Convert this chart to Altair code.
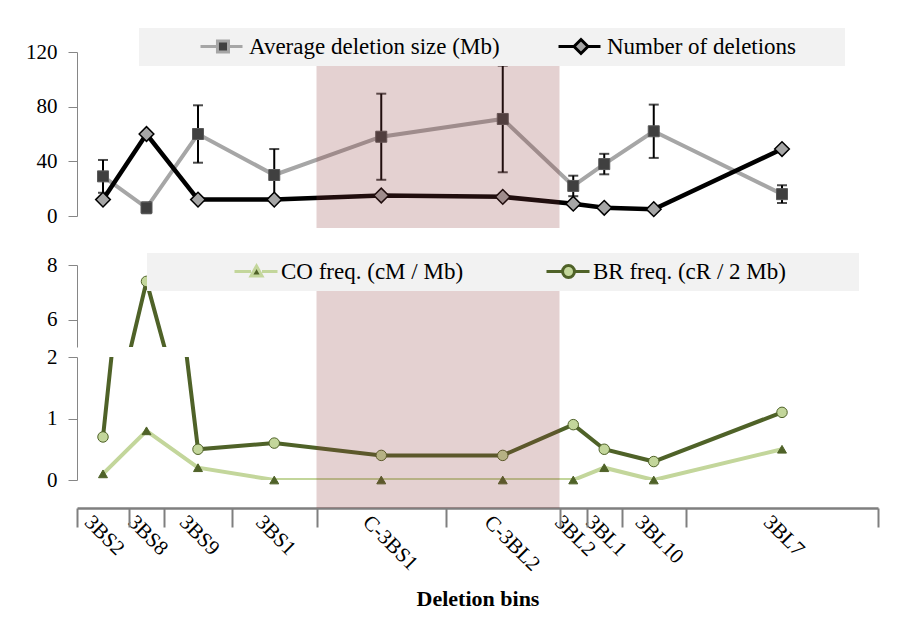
import json
import altair as alt
import pandas as pd

# ---------------- data ----------------
bins = ["3BS2", "3BS8", "3BS9", "3BS1", "C-3BS1", "C-3BL2", "3BL2", "3BL1", "3BL10", "3BL7"]
bin_edges = [0, 52, 87, 155, 239.5, 369, 482.5, 510, 544.5, 609, 801]
avg_size = [29, 6, 60, 30, 58, 71, 22, 38, 62, 16]
avg_err = [12, 4, 21, 19, 31.5, 39, 7.5, 7.5, 19.5, 6.5]
n_deletions = [12, 60, 12, 12, 15, 14, 9, 6, 5, 49]
co_freq = [0.1, 0.8, 0.2, 0, 0, 0, 0, 0.2, 0, 0.5]
br_freq = [0.7, 7.4, 0.5, 0.6, 0.4, 0.4, 0.9, 0.5, 0.3, 1.1]
centromeric_bins = ["C-3BS1", "C-3BL2"]
top_series = ["Average deletion size (Mb)", "Number of deletions"]
bottom_series = ["CO freq. (cM / Mb)", "BR freq. (cR / 2 Mb)"]
top_ticks = [0, 40, 80, 120]
upper_break_ticks = [6, 8]
lower_ticks = [0, 1, 2]
x_title = "Deletion bins"

mids = [(a + b) / 2 for a, b in zip(bin_edges[:-1], bin_edges[1:])]
df = pd.DataFrame({
    "bin": bins, "mid": mids, "avg": avg_size,
    "lo": [a - e for a, e in zip(avg_size, avg_err)],
    "hi": [a + e for a, e in zip(avg_size, avg_err)],
    "num": n_deletions, "co": co_freq, "br": br_freq,
})
i0 = bins.index(centromeric_bins[0])
i1 = bins.index(centromeric_bins[-1])
shade_df = pd.DataFrame({"start": [bin_edges[i0]], "end": [bin_edges[i1 + 1]]})

# ---------------- style ----------------
FONT = "Liberation Serif"
AXIS_GRAY = "#868686"
C_AVG_LINE, C_AVG_MARK = "#A6A6A6", "#404040"
C_NUM_LINE, C_NUM_MARK = "#000000", "#A6A6A6"
C_CO_LINE, C_CO_MARK = "#C3D69B", "#4F6228"
C_BR_LINE, C_BR_MARK = "#4F6228", "#C3D69B"
SHADE, SHADE_OP = "#8B3A3A", 0.23
LEG_BG = "#F2F2F2"
LEG_FONT = 23
W, H1, H2, H3 = 801, 164, 82, 123
GAP_TOP, GAP_BREAK, XAX_OFF = 49, 10, 28

xscale = alt.Scale(domain=[bin_edges[0], bin_edges[-1]], nice=False, zero=False)
X_NONE = alt.X("mid:Q", scale=xscale, axis=None)


def yaxis(values):
    return alt.Axis(values=values, title=None, tickSize=9, labelPadding=11, grid=False,
                    labelExpr="datum.value + ''", labelOverlap=False,
                    domainColor=AXIS_GRAY, tickColor=AXIS_GRAY, domainWidth=1, tickWidth=1,
                    labelFont=FONT, labelFontSize=21, labelColor="black")


def p(v):
    return f"{v:.3f}"


def stub(x0, xm, h):
    return f"M-1,0L-1,0M{p(x0)},0H{p(xm - h)}M{p(xm + h)},0H1"


def square(xm, h):
    return f"M{p(xm - h)},{p(-h)}H{p(xm + h)}V{p(h)}H{p(xm - h)}Z"


def diamond(xm, h):
    return f"M{p(xm)},{p(-h)}L{p(xm + h)},0L{p(xm)},{p(h)}L{p(xm - h)},0Z"


def triangle(xm, h):
    return f"M{p(xm)},{p(-h)}L{p(xm + h)},{p(0.8 * h)}L{p(xm - h)},{p(0.8 * h)}Z"


def circle(xm, h):
    return (f"M{p(xm + h)},0A{p(h)},{p(h)},0,1,1,{p(xm - h)},0"
            f"A{p(h)},{p(h)},0,1,1,{p(xm + h)},0Z")


def legend_layer(name, path, fill, stroke, size, lx, ly, label_offset, blank=False):
    ldf = pd.DataFrame({"series": [name]})
    extra = {"labelExpr": "''"} if blank else {}
    return alt.Chart(ldf).transform_filter("false").mark_point(
        filled=True, fill=fill, stroke=stroke, strokeWidth=3, opacity=1
    ).encode(
        shape=alt.Shape("series:N", scale=alt.Scale(domain=[name], range=[path]),
                        legend=alt.Legend(orient="none", legendX=lx, legendY=ly, title=None,
                                          fillColor=LEG_BG, padding=7, direction="horizontal",
                                          labelFont=FONT, labelFontSize=LEG_FONT, labelColor="black",
                                          labelOffset=label_offset, labelLimit=600,
                                          symbolSize=size, symbolStrokeWidth=3, clipHeight=23,
                                          **extra))
    )


def background_legend(key, width, lx, ly):
    # an empty legend entry whose only purpose is to widen the grey legend band
    return legend_layer(key, "M-1,0L-1,0M1,0L1,0", LEG_BG, LEG_BG, width * width, lx, ly, 0,
                        blank=True)


def shade_layer(h):
    return alt.Chart(shade_df).mark_rect(color=SHADE, opacity=SHADE_OP).encode(
        x=alt.X("start:Q", scale=xscale, axis=None), x2="end:Q",
        y=alt.value(0), y2=alt.value(h))


# ---------------- top panel ----------------
y1 = alt.Scale(domain=[top_ticks[0], top_ticks[-1]], nice=False, zero=False)
AX1 = yaxis(top_ticks)
base = alt.Chart(df)
avg_line = base.mark_line(color=C_AVG_LINE, strokeWidth=4).encode(
    x=X_NONE, y=alt.Y("avg:Q", scale=y1, axis=AX1))
err_rule = base.mark_rule(color="black", strokeWidth=2).encode(
    x=X_NONE, y=alt.Y("lo:Q", scale=y1, axis=AX1), y2="hi:Q")
err_lo = base.mark_tick(orient="horizontal", color="black", size=10, thickness=2).encode(
    x=X_NONE, y=alt.Y("lo:Q", scale=y1, axis=AX1))
err_hi = base.mark_tick(orient="horizontal", color="black", size=10, thickness=2).encode(
    x=X_NONE, y=alt.Y("hi:Q", scale=y1, axis=AX1))
avg_pts = base.mark_point(shape="square", filled=True, fill=C_AVG_MARK, stroke="#595959",
                          strokeWidth=1, size=121, opacity=1).encode(
    x=X_NONE, y=alt.Y("avg:Q", scale=y1, axis=AX1))
num_line = base.mark_line(color=C_NUM_LINE, strokeWidth=4.5).encode(
    x=X_NONE, y=alt.Y("num:Q", scale=y1, axis=AX1))
num_pts = base.mark_point(shape="diamond", filled=True, fill=C_NUM_MARK, stroke="black",
                          strokeWidth=1.5, size=215, opacity=1).encode(
    x=X_NONE, y=alt.Y("num:Q", scale=y1, axis=AX1))

leg_t0 = background_legend("top band", 111, 640, -24)
leg_t2 = legend_layer(top_series[1], stub(0.116, 0.589, 0.147) + diamond(0.589, 0.147),
                      C_NUM_MARK, C_NUM_LINE, 9025, 420, -24, 5)
leg_t1 = legend_layer(top_series[0], stub(0.116, 0.589, 0.116) + square(0.589, 0.116),
                      C_AVG_MARK, C_AVG_LINE, 9025, 62, -24, 5)

p1 = alt.layer(avg_line, err_rule, err_lo, err_hi, avg_pts, num_line, num_pts,
               shade_layer(H1 + 12), leg_t0, leg_t2, leg_t1).resolve_scale(
    shape="independent").properties(width=W, height=H1)

# ---------------- upper break panel ----------------
y2s = alt.Scale(domain=[5, upper_break_ticks[-1]], nice=False, zero=False)
AX2 = yaxis(upper_break_ticks)
br_line2 = base.mark_line(color=C_BR_LINE, strokeWidth=4, clip=True).encode(
    x=X_NONE, y=alt.Y("br:Q", scale=y2s, axis=AX2))
br_pts2 = base.mark_point(shape="circle", filled=True, fill=C_BR_MARK, stroke=C_BR_LINE,
                          strokeWidth=1, size=110, opacity=1, clip=True).encode(
    x=X_NONE, y=alt.Y("br:Q", scale=y2s, axis=AX2))
leg_b0 = background_legend("bottom band", 125, 640, -12)
leg_b2 = legend_layer(bottom_series[1], stub(0.295, 0.656, 0.098) + circle(0.656, 0.098),
                      C_BR_MARK, C_BR_LINE, 14884, 382, -12, 2)
leg_b1 = legend_layer(bottom_series[0], stub(0.295, 0.656, 0.09) + triangle(0.656, 0.09),
                      C_CO_MARK, C_CO_LINE, 14884, 70, -12, 2)
p2 = alt.layer(br_line2, br_pts2, shade_layer(H2 + GAP_BREAK), leg_b0, leg_b2, leg_b1).resolve_scale(
    shape="independent").properties(width=W, height=H2)

# ---------------- lower panel ----------------
y3s = alt.Scale(domain=[lower_ticks[0], lower_ticks[-1]], nice=False, zero=False)
AX3 = yaxis(lower_ticks)
label_map = {f"{m:g}": b for m, b in zip(mids, bins)}
label_expr = json.dumps(label_map) + "[datum.value + '']"

co_line3 = base.mark_line(color=C_CO_LINE, strokeWidth=4, clip=True).encode(
    x=X_NONE, y=alt.Y("co:Q", scale=y3s, axis=AX3))
br_line3 = base.mark_line(color=C_BR_LINE, strokeWidth=4, clip=True).encode(
    x=X_NONE, y=alt.Y("br:Q", scale=y3s, axis=AX3))
co_pts3 = base.mark_point(shape="triangle-up", filled=True, fill=C_CO_MARK, stroke=C_CO_MARK,
                          strokeWidth=1, size=80, opacity=1).encode(
    x=X_NONE, y=alt.Y("co:Q", scale=y3s, axis=AX3))
br_pts3 = base.mark_point(shape="circle", filled=True, fill=C_BR_MARK, stroke=C_BR_LINE,
                          strokeWidth=1, size=110, opacity=1, clip=True).encode(
    x=alt.X("mid:Q", scale=xscale,
            axis=alt.Axis(values=mids, labelExpr=label_expr, ticks=False, tickSize=0, domain=False,
                          orient="bottom", offset=XAX_OFF, labelAngle=45, labelAlign="left",
                          labelBaseline="top", labelPadding=3, labelOffset=-8,
                          labelFont=FONT, labelFontSize=21, labelColor="black",
                          labelOverlap=False, labelFlush=False, labelBound=False, grid=False,
                          title=x_title, titleFont=FONT, titleFontSize=22,
                          titleFontWeight="bold", titleColor="black", titlePadding=14)),
    y=alt.Y("br:Q", scale=y3s, axis=AX3))
shade3 = alt.Chart(shade_df).mark_rect(color=SHADE, opacity=SHADE_OP).encode(
    x=alt.X("start:Q", scale=xscale,
            axis=alt.Axis(values=bin_edges, labels=False, tickSize=19, tickWidth=2,
                          tickColor="#7F7F7F", domainColor="#7F7F7F", domainWidth=2.5,
                          orient="bottom", offset=XAX_OFF, grid=False, title=None)),
    x2="end:Q", y=alt.value(0), y2=alt.value(H3 + XAX_OFF))
p3 = alt.layer(co_line3, br_line3, co_pts3, br_pts3, shade3).resolve_axis(
    x="independent").properties(width=W, height=H3)

bottom_block = alt.vconcat(p2, p3, spacing=GAP_BREAK, bounds="flush")
chart = alt.vconcat(p1, bottom_block, spacing=GAP_TOP, bounds="flush").properties(
    padding={"left": 17, "top": 20, "right": 10, "bottom": 5}, background="white"
).configure_view(stroke=None).configure_axis(grid=False)

chart.save("out.html", embed_options={"renderer": "svg", "actions": False})
